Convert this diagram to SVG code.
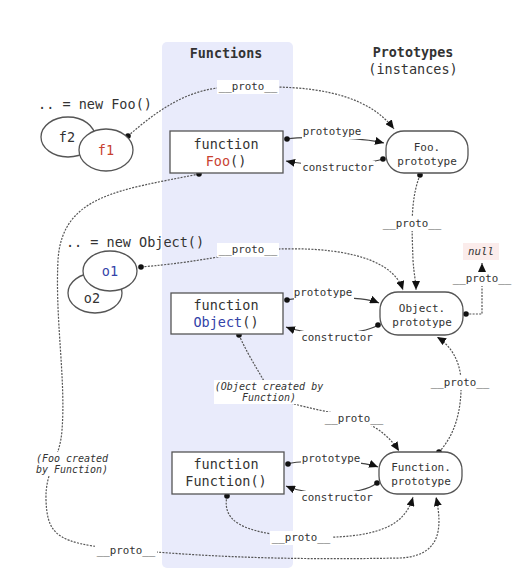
<svg xmlns="http://www.w3.org/2000/svg" width="514" height="584" viewBox="0 0 514 584">
<style>
.bg{fill:#ffffff}
.col{fill:#e9ebfb}
.box{fill:#ffffff;stroke:#555;stroke-width:1.3}
.ell{fill:#ffffff;stroke:#555;stroke-width:1.3}
.t{font-family:"DejaVu Sans Mono","Liberation Mono",monospace;fill:#333;text-anchor:middle}
.fn{font-size:13.5px}
.pt{font-size:11px}
.lbl{font-size:10.8px}
.it{font-size:10px;font-style:italic}
.hd{font-size:13.4px;font-weight:bold}
.red{fill:#c8412f}
.blue{fill:#3343a8}
.c{fill:none;stroke:#555;stroke-width:1.2;stroke-dasharray:2 1.3}
.s{fill:none;stroke:#444;stroke-width:1.2}
.dot{fill:#111}
.lb{fill:#ffffff}
</style>
<defs>
<marker id="ah" markerUnits="userSpaceOnUse" markerWidth="10" markerHeight="8" refX="9" refY="4" orient="auto">
<path d="M0,0 L9,4 L0,8 z" fill="#111"/>
</marker>
</defs>
<rect class="bg" x="0" y="0" width="514" height="584"/>
<rect class="col" x="162" y="42" width="131" height="526" rx="5"/>
<text class="t hd" x="226" y="58">Functions</text>
<text class="t hd" x="413" y="57">Prototypes</text>
<text class="t fn" x="413" y="74">(instances)</text>

<g id="connectors">
<path class="c" d="M128,136 C160,108 190,88 230,87 L270,87 C330,87 372,100 394,129" marker-end="url(#ah)"/>
<path class="s" d="M287,139 C300,136 360,137 384,143" marker-end="url(#ah)"/>
<path class="s" d="M383,159 C360,166 310,166 286,161" marker-end="url(#ah)"/>
<path class="c" d="M420,175 C410,200 412,230 413,260 C414,275 416,282 416,290" marker-end="url(#ah)"/>
<path class="c" d="M141,267 C200,262 230,254 260,250 C330,245 392,255 403,290" marker-end="url(#ah)"/>
<path class="c" d="M466,314 L482,314 L482,263" marker-end="url(#ah)"/>
<path class="s" d="M287,300 C300,297 360,295 379,303" marker-end="url(#ah)"/>
<path class="s" d="M378,325 C360,336 310,336 286,327" marker-end="url(#ah)"/>
<path class="c" d="M239,335 C250,360 265,380 268,390 C275,405 330,410 360,420 C380,428 392,440 399,451" marker-end="url(#ah)"/>
<path class="c" d="M439,452 C455,435 462,410 461,380 C460,360 450,345 437,337" marker-end="url(#ah)"/>
<path class="s" d="M288,464 C300,460 360,460 378,467" marker-end="url(#ah)"/>
<path class="s" d="M377,483 C360,496 310,496 286,486" marker-end="url(#ah)"/>
<path class="c" d="M227,496 C222,520 240,533 300,537 C380,540 405,525 413,497" marker-end="url(#ah)"/>
<path class="c" d="M199,174 C120,190 62,195 58,260 C55,320 66,380 62,430 C60,460 45,470 46,500 C47,530 55,540 93,546 C200,558 300,560 400,558 C440,556 443,530 436,497" marker-end="url(#ah)"/>
<circle class="dot" cx="128" cy="136" r="2.8"/>
<circle class="dot" cx="287" cy="139" r="2.8"/>
<circle class="dot" cx="383" cy="159" r="2.8"/>
<circle class="dot" cx="420" cy="175" r="2.8"/>
<circle class="dot" cx="141" cy="267" r="2.8"/>
<circle class="dot" cx="466" cy="314" r="2.8"/>
<circle class="dot" cx="287" cy="300" r="2.8"/>
<circle class="dot" cx="378" cy="325" r="2.8"/>
<circle class="dot" cx="239" cy="335" r="2.8"/>
<circle class="dot" cx="439" cy="452" r="2.8"/>
<circle class="dot" cx="288" cy="464" r="2.8"/>
<circle class="dot" cx="377" cy="483" r="2.8"/>
<circle class="dot" cx="227" cy="496" r="2.8"/>
<circle class="dot" cx="199" cy="174" r="2.8"/>
</g>

<g id="labels">
<rect class="lb" x="217" y="80" width="62" height="14"/>
<text class="t lbl" x="248" y="90">__proto__</text>
<rect class="lb" x="302" y="126" width="60" height="13"/>
<text class="t lbl" x="332" y="135">prototype</text>
<rect class="lb" x="301" y="161" width="74" height="13"/>
<text class="t lbl" x="338" y="171">constructor</text>
<rect class="lb" x="381" y="217" width="62" height="14"/>
<text class="t lbl" x="412" y="227">__proto__</text>
<rect class="lb" x="217" y="243" width="62" height="14"/>
<text class="t lbl" x="248" y="253">__proto__</text>
<rect class="lb" x="451" y="272" width="62" height="14"/>
<text class="t lbl" x="482" y="282">__proto__</text>
<rect class="lb" x="294" y="287" width="60" height="13"/>
<text class="t lbl" x="323" y="296">prototype</text>
<rect class="lb" x="300" y="331" width="74" height="13"/>
<text class="t lbl" x="337" y="341">constructor</text>
<rect class="lb" x="214" y="380" width="110" height="24"/>
<text class="t it" x="269" y="390">(Object created by</text>
<text class="t it" x="269" y="401">Function)</text>
<rect class="lb" x="323" y="412" width="62" height="14"/>
<text class="t lbl" x="354" y="422">__proto__</text>
<rect class="lb" x="429" y="376" width="62" height="14"/>
<text class="t lbl" x="460" y="386">__proto__</text>
<rect class="lb" x="301" y="453" width="60" height="13"/>
<text class="t lbl" x="331" y="462">prototype</text>
<rect class="lb" x="300" y="491" width="74" height="13"/>
<text class="t lbl" x="337" y="501">constructor</text>
<rect class="lb" x="270" y="531" width="62" height="14"/>
<text class="t lbl" x="301" y="541">__proto__</text>
<rect class="lb" x="36" y="452" width="72" height="24"/>
<text class="t it" x="72" y="462">(Foo created</text>
<text class="t it" x="72" y="473">by Function)</text>
<rect class="lb" x="95" y="544" width="62" height="14"/>
<text class="t lbl" x="126" y="554">__proto__</text>
</g>

<g id="newFoo">
<text class="t fn" x="95" y="109">.. = new Foo()</text>
</g>
<g id="f2">
<ellipse class="ell" cx="68" cy="137" rx="27" ry="20"/>
<text class="t fn" x="67" y="142">f2</text>
</g>
<g id="f1">
<ellipse class="ell" cx="106" cy="150" rx="27" ry="21"/>
<text class="t fn red" x="106" y="155">f1</text>
</g>

<g id="newObject">
<text class="t fn" x="135" y="247">.. = new Object()</text>
</g>
<g id="o2">
<ellipse class="ell" cx="95" cy="293" rx="27" ry="20"/>
<text class="t fn" x="92" y="303">o2</text>
</g>
<g id="o1">
<ellipse class="ell" cx="110" cy="271" rx="27" ry="20"/>
<text class="t fn blue" x="110" y="276">o1</text>
</g>

<g id="FooFn">
<rect class="box" x="170" y="131" width="113" height="42"/>
<text class="t fn" x="226" y="149">function</text>
<text class="t fn" x="226" y="166"><tspan class="red">Foo</tspan>()</text>
</g>
<g id="ObjectFn">
<rect class="box" x="171" y="293" width="112" height="41"/>
<text class="t fn" x="226" y="310">function</text>
<text class="t fn" x="226" y="327"><tspan class="blue">Object</tspan>()</text>
</g>
<g id="FunctionFn">
<rect class="box" x="172" y="452" width="112" height="42"/>
<text class="t fn" x="226" y="469">function</text>
<text class="t fn" x="226" y="486">Function()</text>
</g>

<g id="FooProto">
<rect class="box" x="386" y="131" width="82" height="42" rx="18"/>
<text class="t pt" x="427" y="151">Foo.</text>
<text class="t pt" x="427" y="165">prototype</text>
</g>
<g id="ObjectProto">
<rect class="box" x="380" y="292" width="83" height="43" rx="18"/>
<text class="t pt" x="422" y="312">Object.</text>
<text class="t pt" x="422" y="326">prototype</text>
</g>
<g id="FunctionProto">
<rect class="box" x="379" y="452" width="83" height="42" rx="18"/>
<text class="t pt" x="421" y="471">Function.</text>
<text class="t pt" x="421" y="485">prototype</text>
</g>
<g id="null">
<rect x="463" y="243" width="36" height="17" fill="#fbeceb"/>
<text class="t lbl" x="481" y="255" font-style="italic">null</text>
</g>
</svg>
